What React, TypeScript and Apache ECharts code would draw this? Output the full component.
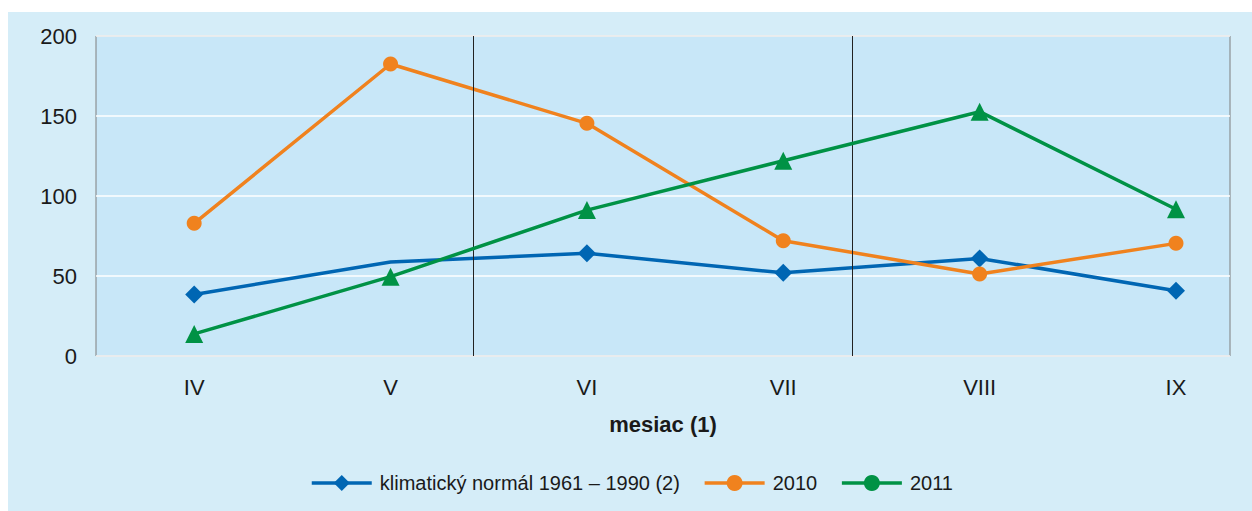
import React, { useEffect, useRef } from "react";
import * as echarts from "echarts";

const months = ["IV", "V", "VI", "VII", "VIII", "IX"];
const normal = [38.5, 58.7, 64.2, 52, 61, 40.8];
const y2010 = [82.9, 182.5, 145.4, 72, 51.25, 70.4];
const y2011 = [13.8, 49.6, 91.2, 122, 152.7, 91.7];
const dividers = [1.42, 3.345];
const yTicks = [0, 50, 100, 150, 200];

export default function App() {
  const ref = useRef<HTMLDivElement>(null);
  useEffect(() => {
    if (!ref.current) return;
    const chart = echarts.init(ref.current, undefined, { renderer: "svg" });
    const font = "Liberation Sans, Arial, sans-serif";
    chart.setOption({
      animation: false,
      textStyle: { fontFamily: font },
      graphic: [
        {
          type: "rect",
          z: -100,
          shape: { x: 8, y: 12, width: 1244, height: 499 },
          style: { fill: "#d5edf8" },
          silent: true,
        },
      ],
      grid: {
        left: 96,
        right: 22,
        top: 36,
        bottom: 155,
        show: true,
        backgroundColor: "#c8e7f8",
        borderColor: "#7f7f7f",
        borderWidth: 1,
      },
      xAxis: {
        type: "value",
        min: -0.5,
        max: 5.275,
        interval: 0.5,
        name: "mesiac (1)",
        nameLocation: "middle",
        nameGap: 57,
        nameTextStyle: { fontSize: 22, fontWeight: "bold", color: "#1a1a1a", fontFamily: font },
        axisLine: { show: false },
        axisTick: { show: false },
        splitLine: { show: false },
        axisLabel: {
          fontSize: 22,
          color: "#1a1a1a",
          margin: 20,
          fontFamily: font,
          showMaxLabel: false,
          formatter: (v: number) => {
            const i = Math.round(v);
            return Math.abs(v - i) < 1e-6 && i >= 0 && i < months.length ? months[i] : "";
          },
        },
      },
      yAxis: {
        type: "value",
        min: yTicks[0],
        max: yTicks[yTicks.length - 1],
        interval: 50,
        axisLine: { show: false },
        axisTick: { show: false },
        splitLine: { lineStyle: { color: "#ffffff", width: 1.5 } },
        axisLabel: { fontSize: 22, color: "#1a1a1a", margin: 19, fontFamily: font },
      },
      legend: {
        left: 305,
        top: 468,
        itemWidth: 60,
        itemHeight: 20,
        itemGap: 23,
        lineStyle: { width: 3.5 },
        textStyle: { fontSize: 20, color: "#1a1a1a", fontFamily: font, padding: [0, 0, 0, 3] },
        data: ["klimatický normál 1961 – 1990 (2)", "2010", "2011"],
      },
      series: [
        {
          name: "klimatický normál 1961 – 1990 (2)",
          type: "line",
          symbol: "diamond",
          symbolSize: 18,
          color: "#0066b3",
          lineStyle: { width: 3.5 },
          data: normal.map((v, i) =>
            i === 1 ? { value: [i, v], symbol: "none" } : { value: [i, v] }
          ),
          markLine: {
            silent: true,
            symbol: "none",
            label: { show: false },
            lineStyle: { color: "#222222", width: 1, type: "solid" },
            data: dividers.map((d) => ({ xAxis: d })),
          },
          z: 3,
        },
        {
          name: "2010",
          type: "line",
          symbol: "circle",
          symbolSize: 15,
          color: "#f0821e",
          lineStyle: { width: 3.5 },
          data: y2010.map((v, i) => [i, v]),
          z: 4,
        },
        {
          name: "2011",
          type: "line",
          symbol: "circle",
          symbolSize: 15,
          color: "#009245",
          lineStyle: { width: 3.5 },
          data: y2011.map((v, i) => ({ value: [i, v], symbol: "triangle", symbolSize: 18 })),
          z: 5,
        },
      ],
    });
    return () => chart.dispose();
  }, []);
  return (
    <div
      ref={ref}
      style={{ position: "fixed", left: 0, top: 0, width: 1252, height: 511, background: "#ffffff" }}
    />
  );
}
